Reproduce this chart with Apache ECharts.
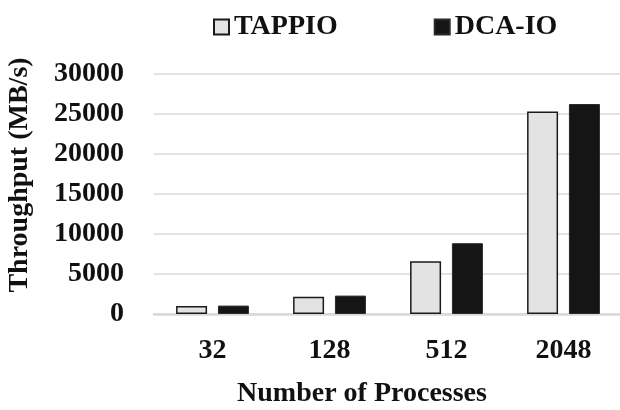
<!DOCTYPE html>
<html>
<head>
<meta charset="utf-8">
<script src="https://cdn.jsdelivr.net/npm/echarts@6/dist/echarts.min.js"></script>
<style>html,body{margin:0;padding:0;background:#fff;}#c{width:620px;height:410px;}</style>
</head>
<body>
<div id="c"></div>
<script>
const categories = ['32', '128', '512', '2048'];
const tappio = [1000, 2150, 6600, 25300];
const dcaio = [1050, 2300, 8850, 26250];
const yTicks = { min: 0, max: 30000, interval: 5000 };
const seriesNames = ['TAPPIO', 'DCA-IO'];

const font = "'Liberation Serif', 'Times New Roman', serif";
const chart = echarts.init(document.getElementById('c'), null, { renderer: 'canvas' });
chart.setOption({
  animation: false,
  backgroundColor: '#ffffff',
  legend: {
    left: 208, top: 8,
    itemWidth: 15, itemHeight: 15, itemGap: 96,
    icon: 'rect',
    textStyle: { fontFamily: font, fontWeight: 'bold', fontSize: 28, color: '#111' },
    data: seriesNames
  },
  grid: { left: 154, top: 74, width: 468, height: 240, containLabel: false, outerBoundsMode: 'none' },
  xAxis: {
    type: 'category', data: categories,
    axisLine: { show: true, lineStyle: { color: '#d9d9d9', width: 2.5 } },
    axisTick: { show: false },
    axisLabel: { margin: 23, fontFamily: font, fontWeight: 'bold', fontSize: 28, color: '#111' },
    name: 'Number of Processes', nameLocation: 'middle', nameGap: 66,
    nameTextStyle: { fontFamily: font, fontWeight: 'bold', fontSize: 28, color: '#111', padding: [0, 52, 0, 0] }
  },
  yAxis: {
    type: 'value', min: yTicks.min, max: yTicks.max, interval: yTicks.interval,
    axisLine: { show: false }, axisTick: { show: false },
    splitLine: { lineStyle: { color: '#d9d9d9', width: 1.5 } },
    axisLabel: { margin: 30, fontFamily: font, fontWeight: 'bold', fontSize: 28, color: '#111',
      formatter: function (v) { return String(v); } },
    name: 'Throughput (MB/s)', nameLocation: 'middle', nameGap: 120,
    nameTextStyle: { fontFamily: font, fontWeight: 'bold', fontSize: 28, color: '#111', padding: [0, 0, 0, 38] }
  },
  series: [
    { name: seriesNames[0], type: 'bar', data: tappio, barWidth: 31, barGap: '35%',
      itemStyle: { color: '#e2e3e2', borderColor: '#1a1a1a', borderWidth: 1.5 } },
    { name: seriesNames[1], type: 'bar', data: dcaio, barWidth: 31, barGap: '35%',
      itemStyle: { color: '#151515', borderColor: '#2a2a2a', borderWidth: 1 } }
  ]
});
</script>
</body>
</html>
